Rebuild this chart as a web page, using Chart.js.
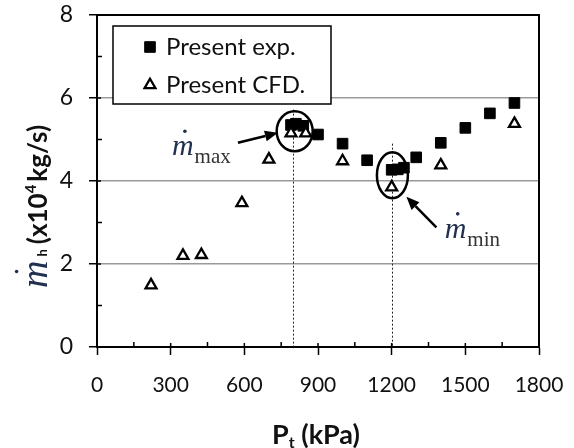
<!DOCTYPE html>
<html>
<head>
<meta charset="utf-8">
<script src="https://cdn.jsdelivr.net/npm/chart.js@4.4.1/dist/chart.umd.min.js"></script>
<style>
html, body { margin: 0; padding: 0; background: #fff; }
</style>
</head>
<body>
<canvas id="chart" width="574" height="448"></canvas>
<script>
// measured points (filled squares)
const expPressure = [790, 810, 840, 900, 1000, 1100, 1200, 1225, 1250, 1300, 1400, 1500, 1600, 1700];
const expFlow = [5.35, 5.38, 5.33, 5.12, 4.9, 4.5, 4.27, 4.28, 4.32, 4.57, 4.92, 5.28, 5.63, 5.88];
// CFD points (open triangles)
const cfdPressure = [220, 350, 425, 590, 700, 790, 850, 1000, 1200, 1400, 1700];
const cfdFlow = [1.49, 2.2, 2.22, 3.47, 4.52, 5.15, 5.15, 4.48, 3.85, 4.38, 5.38];

const xTicks = [0, 300, 600, 900, 1200, 1500, 1800];
const yTicks = [0, 2, 4, 6, 8];
const seriesNames = ["Present exp.", "Present CFD."];
const peakPressure = [800, 1200];   // dotted markers for max / min
const peakLabels = ["max", "min"];

const FONT = 'Lato, "Open Sans", sans-serif';
Chart.defaults.font.family = FONT;
Chart.defaults.color = '#111';

function arrow(ctx, x1, y1, x2, y2) {
  const ang = Math.atan2(y2 - y1, x2 - x1), L = 13, W = 5.5;
  const bx = x2 - L * Math.cos(ang), by = y2 - L * Math.sin(ang);
  ctx.beginPath(); ctx.moveTo(x1, y1); ctx.lineTo(bx, by); ctx.stroke();
  ctx.beginPath();
  ctx.moveTo(x2, y2);
  ctx.lineTo(bx + W * Math.sin(ang), by - W * Math.cos(ang));
  ctx.lineTo(bx - W * Math.sin(ang), by + W * Math.cos(ang));
  ctx.closePath(); ctx.fill();
}

// m with a dot and a subscript, like the math labels in the figure
function mDot(ctx, px, py, sub, size) {
  ctx.textBaseline = 'alphabetic'; ctx.textAlign = 'left';
  ctx.font = 'italic ' + size + 'px "Liberation Serif", serif';
  ctx.fillStyle = '#22304f';
  ctx.fillText('m', px, py);
  const w = ctx.measureText('m').width;
  ctx.beginPath(); ctx.arc(px + w * 0.6, py - size * 0.8, 1.8, 0, Math.PI * 2); ctx.fill();
  if (sub) {
    ctx.font = '21px "Liberation Serif", serif';
    ctx.fillStyle = '#333';
    ctx.fillText(sub, px + w + 1, py + 8);
  }
  return w;
}

const overlay = {
  id: 'overlay',
  beforeDatasetsDraw(chart) {
    const { ctx, chartArea: a, scales: { x, y } } = chart;
    ctx.save();
    ctx.strokeStyle = '#000'; ctx.lineWidth = 1.5;
    // small inner ticks
    ctx.beginPath();
    xTicks.forEach((v, i) => {
      const px = x.getPixelForValue(v);
      ctx.moveTo(px, a.bottom); ctx.lineTo(px, a.bottom - 4);
      if (i < xTicks.length - 1) {
        const pm = x.getPixelForValue(v + 150);
        ctx.moveTo(pm, a.bottom); ctx.lineTo(pm, a.bottom - 5);
      }
    });
    yTicks.forEach((v, i) => {
      const py = y.getPixelForValue(v);
      ctx.moveTo(a.left, py); ctx.lineTo(a.left + 4, py);
      if (i < yTicks.length - 1) {
        const pm = y.getPixelForValue(v + 1);
        ctx.moveTo(a.left, pm); ctx.lineTo(a.left + 5, pm);
      }
    });
    ctx.stroke();
    // dotted verticals at max / min pressure
    ctx.setLineDash([2, 2]); ctx.lineWidth = 1; ctx.strokeStyle = '#222';
    const tops = [5.72, 4.9];
    peakPressure.forEach((p, i) => {
      const px = Math.round(x.getPixelForValue(p)) + 0.5;
      ctx.beginPath(); ctx.moveTo(px, y.getPixelForValue(tops[i])); ctx.lineTo(px, a.bottom); ctx.stroke();
    });
    ctx.restore();
  },
  afterDraw(chart) {
    const { ctx, chartArea: a, scales: { x, y } } = chart;
    ctx.save();
    // frame top / right
    ctx.strokeStyle = '#000'; ctx.lineWidth = 2;
    ctx.beginPath();
    ctx.moveTo(a.left, a.top); ctx.lineTo(a.right, a.top); ctx.lineTo(a.right, a.bottom);
    ctx.stroke();

    // ellipses round max and min
    ctx.lineWidth = 2.5;
    ctx.beginPath();
    ctx.ellipse(x.getPixelForValue(805), y.getPixelForValue(5.2), 18, 20, 0, 0, Math.PI * 2);
    ctx.stroke();
    ctx.beginPath();
    ctx.ellipse(x.getPixelForValue(1203), y.getPixelForValue(4.14), 15.5, 23, 0, 0, Math.PI * 2);
    ctx.stroke();

    // arrows
    ctx.fillStyle = '#000'; ctx.lineWidth = 2.5;
    arrow(ctx, x.getPixelForValue(574), y.getPixelForValue(4.92), x.getPixelForValue(737), y.getPixelForValue(5.16));
    arrow(ctx, x.getPixelForValue(1382), y.getPixelForValue(2.88), x.getPixelForValue(1260), y.getPixelForValue(3.62));

    // math labels
    mDot(ctx, x.getPixelForValue(305), y.getPixelForValue(4.62), peakLabels[0], 30);
    mDot(ctx, x.getPixelForValue(1416), y.getPixelForValue(2.63), peakLabels[1], 30);

    // legend box
    const lx = a.left + 16, ly = a.top + 11;
    ctx.fillStyle = '#fff';
    ctx.fillRect(lx, ly, 218, 78);
    ctx.strokeStyle = '#000'; ctx.lineWidth = 1.5;
    ctx.strokeRect(lx, ly, 218, 78);
    chart.data.datasets.forEach((ds, i) => {
      const cy = ly + 21 + i * 38, cx = lx + 37;
      ctx.fillStyle = ds.backgroundColor; ctx.strokeStyle = ds.borderColor; ctx.lineWidth = ds.borderWidth;
      Chart.helpers.drawPoint(ctx, { pointStyle: ds.pointStyle, radius: ds.pointRadius, borderWidth: ds.borderWidth }, cx, cy);
      ctx.fillStyle = '#111';
      ctx.font = '24px ' + FONT;
      ctx.textBaseline = 'middle'; ctx.textAlign = 'left';
      ctx.fillText(ds.label, lx + 53, cy);
    });

    // x axis title
    ctx.fillStyle = '#111';
    ctx.textBaseline = 'alphabetic'; ctx.textAlign = 'left';
    let tx = 272;
    ctx.font = 'bold 27px ' + FONT; ctx.fillText('P', tx, 444); tx += ctx.measureText('P').width;
    ctx.font = 'bold 16px ' + FONT; ctx.fillText('t', tx, 448); tx += ctx.measureText('t').width;
    ctx.font = 'bold 27px ' + FONT; ctx.fillText(' (kPa)', tx, 444);

    // y axis title, rotated
    ctx.translate(47, 288);
    ctx.rotate(-Math.PI / 2);
    let ty = mDot(ctx, 0, 0, '', 38) + 4;
    ctx.fillStyle = '#111';
    ctx.font = 'bold 13px ' + FONT; ctx.fillText('h', ty, 0); ty += ctx.measureText('h').width + 5;
    ctx.font = 'bold 26px ' + FONT; ctx.fillText('(x10', ty, 0); ty += ctx.measureText('(x10').width;
    ctx.font = 'bold 15px ' + FONT; ctx.fillText('4', ty, -11); ty += ctx.measureText('4').width + 3;
    ctx.font = 'bold 26px ' + FONT; ctx.fillText('kg/s)', ty, 0);
    ctx.restore();
  }
};

new Chart(document.getElementById('chart'), {
  type: 'scatter',
  data: {
    datasets: [
      {
        label: seriesNames[0],
        data: expPressure.map((p, i) => ({ x: p, y: expFlow[i] })),
        pointStyle: 'rect', pointRadius: 7.5, borderWidth: 1,
        backgroundColor: '#000', borderColor: '#000', order: 1
      },
      {
        label: seriesNames[1],
        data: cfdPressure.map((p, i) => ({ x: p, y: cfdFlow[i] })),
        pointStyle: 'triangle', pointRadius: 6.3, borderWidth: 2.3,
        backgroundColor: '#fff', borderColor: '#000', order: 0
      }
    ]
  },
  options: {
    responsive: false,
    animation: false,
    layout: { padding: { top: 15, right: 35, left: 0, bottom: 0 } },
    plugins: { legend: { display: false }, tooltip: { enabled: false } },
    scales: {
      x: {
        type: 'linear', min: 0, max: 1800,
        afterBuildTicks: s => { s.ticks = xTicks.map(v => ({ value: v })); },
        afterFit: s => { s.height = 101; s.paddingLeft = 0; s.paddingRight = 0; },
        grid: { drawOnChartArea: false, drawTicks: true, tickLength: 8, tickColor: '#000', tickWidth: 1.5 },
        border: { color: '#000', width: 2 },
        ticks: { padding: 18, font: { size: 21 }, color: '#111', maxRotation: 0, callback: v => String(v) }
      },
      y: {
        min: 0, max: 8,
        afterBuildTicks: s => { s.ticks = yTicks.map(v => ({ value: v })); },
        afterFit: s => { s.width = 97; s.paddingTop = 0; s.paddingBottom = 0; },
        grid: {
          color: c => (c.tick && c.tick.value > 0 && c.tick.value < 8) ? '#9a9a9a' : 'rgba(0,0,0,0)',
          lineWidth: 1.5, tickColor: '#000', tickLength: 8, tickWidth: 1.5
        },
        border: { color: '#000', width: 2 },
        ticks: { padding: 16, font: { size: 23 }, color: '#111', callback: v => String(v) }
      }
    }
  },
  plugins: [overlay]
});
</script>
</body>
</html>
